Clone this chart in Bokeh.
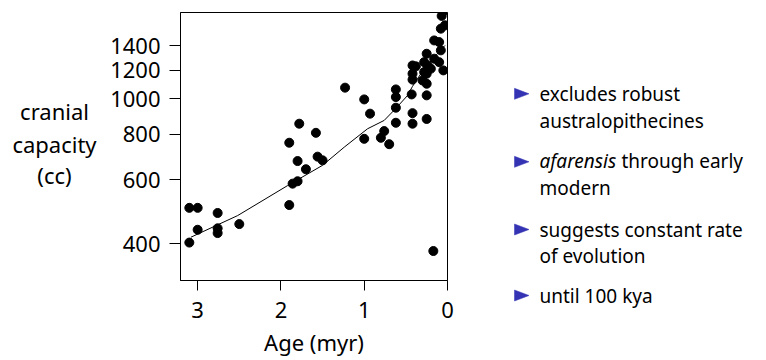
from bokeh.plotting import figure
from bokeh.layouts import row
from bokeh.models import Range1d, FixedTicker, PrintfTickFormatter
from bokeh.core.properties import value
from bokeh.embed import file_html
from bokeh.resources import INLINE

# data: age (million years) and cranial capacity (cc)
age = [3.10, 3.00, 2.76, 3.00, 2.76, 2.76, 2.50, 3.10,
       1.90, 1.78, 1.58, 1.80, 1.70, 1.56, 1.50, 1.86, 1.80, 1.90,
       1.23, 1.00, 0.93, 1.00, 0.80, 0.76, 0.70,
       0.62, 0.62, 0.62, 0.62,
       0.43, 0.42, 0.42, 0.25, 0.25, 0.17,
       0.42, 0.25, 0.25, 0.30, 0.05,
       0.05, 0.07, 0.03, 0.08, 0.16, 0.10, 0.08, 0.25, 0.16, 0.10,
       0.28, 0.24, 0.42, 0.38, 0.42, 0.28, 0.20]
cc = [502, 502, 486, 437, 441, 428, 453, 403,
      758, 855, 807, 675, 641, 694, 678, 585, 594, 511,
      1074, 997, 911, 777, 782, 816, 751,
      1062, 1012, 946, 860,
      1029, 914, 855, 1023, 881, 382,
      1130, 1173, 1101, 1124, 1198,
      1740, 1691, 1593, 1560, 1448, 1433, 1360, 1331, 1290, 1262,
      1262, 1236, 1236, 1229, 1173, 1185, 1211]

fit_age = [3.08, 2.52, 1.92, 1.50, 1.24, 0.96, 0.76, 0.62, 0.48, 0.42, 0.28, 0.14, 0.03]
fit_cc = [417, 478, 578, 657, 737, 828, 873, 942, 1022, 1083, 1211, 1317, 1403]

y_ticks = [400, 600, 800, 1000, 1200, 1400]
x_ticks = [0, 1, 2, 3]

ylabel_lines = ["cranial", "capacity", "(cc)"]
bullet_lines = ["excludes robust", "australopithecines", "afarensis", "through early",
                "modern", "suggests constant rate", "of evolution", "until 100 kya"]

FONT = "Noto Sans"
H = 360
WA, WB = 100, 367
WC = 766 - WA - WB
XC = WA + WB  # page x where the bullet panel starts


def blank(width, x0):
    f = figure(width=width, height=H, output_backend="svg", toolbar_location=None,
               title=None,
               x_range=Range1d(x0, x0 + width), y_range=Range1d(H, 0),
               x_axis_location=None, y_axis_location=None, min_border=0,
               frame_align=False)
    f.xgrid.visible = False
    f.ygrid.visible = False
    f.outline_line_color = None
    f.background_fill_color = "white"
    f.border_fill_color = "white"
    return f


# ---- left panel: horizontal y-axis title ----
pa = blank(WA, 0)
pa.text(x=[54, 54, 54], y=[110.5, 143.5, 174.5], text=ylabel_lines,
        text_font=value(FONT), text_font_size="22px", text_align="center",
        text_baseline="middle", text_color="black")

# ---- main plot ----
p = figure(width=WB, height=H, output_backend="svg", toolbar_location=None,
           y_axis_type="log", x_range=Range1d(3.206, 0.0), y_range=Range1d(317, 1728),
           min_border_left=80, min_border_right=20, min_border_top=12, min_border_bottom=80,
           frame_align=False)
p.xgrid.visible = False
p.ygrid.visible = False
p.outline_line_color = "black"
p.outline_line_width = 1
p.background_fill_color = "white"
p.border_fill_color = "white"

for ax in (p.xaxis[0], p.yaxis[0]):
    ax.axis_line_color = "black"
    ax.major_tick_line_color = "black"
    ax.minor_tick_line_color = None
    ax.major_tick_in = 0
    ax.major_label_text_font = FONT
    ax.major_label_text_color = "black"
    ax.major_label_text_font_size = "22px"

p.yaxis.ticker = FixedTicker(ticks=y_ticks)
p.yaxis.formatter = PrintfTickFormatter(format="%d")
p.yaxis.major_tick_out = 11
p.yaxis.major_label_standoff = 9

p.xaxis.ticker = FixedTicker(ticks=x_ticks)
p.xaxis.major_tick_out = 10
p.xaxis.major_label_standoff = 11
p.xaxis.axis_label = "Age (myr)"
p.xaxis.axis_label_text_font = FONT
p.xaxis.axis_label_text_font_style = "normal"
p.xaxis.axis_label_text_font_size = "22px"
p.xaxis.axis_label_text_color = "black"
p.xaxis.axis_label_standoff = 6

p.line(fit_age, fit_cc, line_color="black", line_width=1)
p.scatter(age, cc, size=9, color="black")

# ---- right panel: bullet list ----
pc = blank(WC, XC)
TX = 539
normal_idx = [0, 1, 3, 4, 5, 6, 7]
normal_x = [TX, TX, 621, TX, TX, TX, TX]
normal_y = [93.3, 120, 160.7, 187, 229, 255, 295.5]
pc.text(x=normal_x, y=normal_y, text=[bullet_lines[i] for i in normal_idx],
        text_font=value(FONT), text_font_size="19px", text_align="left",
        text_baseline="middle", text_color="black")
pc.text(x=[TX], y=[160.7], text=[bullet_lines[2]],
        text_font=value(FONT), text_font_size="19px", text_font_style="italic",
        text_align="left", text_baseline="middle", text_color="black")

tri_cy = [93.3, 161.3, 229, 295]
pc.patches(xs=[[514, 528.5, 514] for _ in tri_cy],
           ys=[[c - 5.5, c, c + 5.5] for c in tri_cy],
           fill_color="#3333B3", line_color="#3333B3", line_width=0.5)

layout = row(pa, p, pc)
open("out.html", "w").write(file_html(layout, INLINE))
